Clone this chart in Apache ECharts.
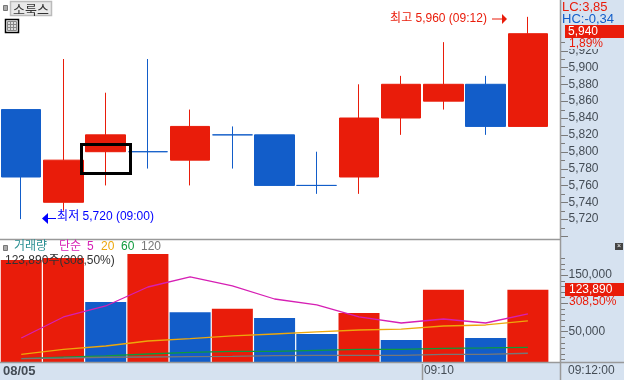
<!DOCTYPE html>
<html><head><meta charset="utf-8">
<style>html,body{margin:0;padding:0;background:#fff}#c{width:624px;height:380px}</style>
<script src="https://cdn.jsdelivr.net/npm/echarts@6/dist/echarts.min.js"></script>
</head><body><div id="c"></div>
<script>
const times = ['08/05','09:01','09:02','09:03','09:04','09:05','09:06','09:07','09:08','09:09','09:10','09:11','09:12'];
const opens  = [5850,5740,5800,5800,5790,5820,5820,5760,5770,5840,5860,5880,5830];
const closes = [5770,5790,5820,5800,5830,5820,5760,5760,5840,5880,5880,5830,5940];
const lows   = [5720,5730,5760,5780,5760,5780,5760,5750,5750,5820,5850,5820,5830];
const highs  = [5850,5910,5870,5910,5850,5830,5820,5800,5880,5890,5930,5890,5960];
const volumes = [176500,180000,102000,187000,84000,90000,73600,45000,82500,34500,123890,38000,123890];
const volumeUp = [1,1,0,1,0,1,0,0,1,0,1,0,1];
const ma5   = [38100,75400,94900,128600,146400,130400,107300,96700,75400,64700,71800,64700,80700];
const ma20  = [9200,18000,23900,32800,36900,41700,45200,48800,52300,54000,59400,61200,68300];
const ma60  = [1400,3900,6200,9700,12700,14500,14500,16300,18000,18000,19800,20400,21600];
const ma120 = [1400,2600,3900,4400,4900,5600,6700,7400,7400,7400,9200,9200,11000];
const priceMajorTicks = [5700,5720,5740,5760,5780,5800,5820,5840,5860,5880,5900,5920];
const priceMinorTicks = [5710,5730,5750,5770,5790,5810,5830,5850,5870,5890,5910,5930];
const volMajorTicks = [50000,100000,150000];
const volMinorTicks = [0,10000,20000,30000,40000,60000,70000,80000,90000,110000,120000,130000,140000,160000,170000,180000];

const RED='#e91c0a', BLUE='#125dc9', PANEL='#d6e2f0', GRAY='#999999', TICK='#7a7a7a', TXT='#444c55';
const FONT='"Liberation Sans","Noto Sans CJK KR",sans-serif';
const chart = echarts.init(document.getElementById('c'),null,{renderer:'canvas'});

function txt(x,y,text,fill,opt){return Object.assign({type:'text',x:x,y:y,z:100,silent:true,
  style:Object.assign({text:text,fill:fill,font:'12px '+FONT,textVerticalAlign:'middle'},opt||{})});}
function rect(x,y,w,h,fill,z,extra){return {type:'rect',z:z,silent:true,shape:{x:x,y:y,width:w,height:h},
  style:Object.assign({fill:fill},extra||{})};}
function line(x1,y1,x2,y2,c,z,w){return {type:'line',z:z,silent:true,shape:{x1:x1,y1:y1,x2:x2,y2:y2},style:{stroke:c,lineWidth:w||1}};}

const graphics=[
  rect(561,0,63,380,PANEL,-1),
  rect(0,363,624,17,PANEL,-1),
  rect(561,0,63,40,PANEL,50),
  rect(567,38,57,11,PANEL,50),
  line(0,239.5,560,239.5,GRAY,60,1.5),
  line(0,362.5,624,362.5,GRAY,60,1.5),
  line(560.5,0,560.5,380,GRAY,60,1.5),
  line(422.5,364,422.5,380,GRAY,60,1.5),
  // header widgets
  rect(3.5,5.5,4,5,'#aaaaaa',100,{stroke:'#777',lineWidth:1}),
  rect(10.5,1.5,41,14,'#e9e9e9',100,{stroke:'#bbbbbb',lineWidth:1.5}),
  txt(31,9,'소룩스','#333',{textAlign:'center',font:'13px "Noto Sans CJK KR"'}),
  rect(5.5,19.5,13,13,'#fff',100,{stroke:'#000',lineWidth:1.5}),
  rect(7.5,21.5,9,9,'#ddd',101,{stroke:'#888',lineWidth:1}),
  line(10.5,21.5,10.5,30.5,'#888',102), line(13.5,21.5,13.5,30.5,'#888',102),
  line(7.5,24.5,16.5,24.5,'#888',102), line(7.5,27.5,16.5,27.5,'#888',102),
  // selection box
  rect(81.5,144.5,49,29,'rgba(0,0,0,0)',90,{stroke:'#000',lineWidth:3}),
  // high / low arrows
  line(492,19,504,19,RED,90),
  {type:'polygon',z:90,silent:true,shape:{points:[[502,14],[507,19],[502,24]]},style:{fill:RED}},
  line(48,218.5,56,218.5,'#0000ff',90),
  {type:'polygon',z:90,silent:true,shape:{points:[[48,213],[42,218.5],[48,224]]},style:{fill:'#0000ff'}},
  // right side overlays
  txt(562,7,'LC:3,85',RED,{font:'13px '+FONT}),
  txt(562,19,'HC:-0,34',BLUE,{font:'13px '+FONT}),
  rect(565,25,59,13,RED,99),
  txt(568,32,'5,940','#fff',{}),
  txt(569,44,'1,89%',RED,{}),
  rect(565,283,59,13,RED,99),
  txt(569,290,'123,890','#fff',{}),
  txt(569,302,'308,50%',RED,{}),
  rect(615,243,8,7,'#444',100),
  txt(619,246.5,'×','#fff',{textAlign:'center',font:'7px '+FONT}),
  txt(568,371,'09:12:00',TXT,{font:'12px '+FONT}),
  // volume legend
  rect(3.5,245.5,4,5,'#aaaaaa',100,{stroke:'#777',lineWidth:1}),
  txt(14,247,'거래량','#2a8f92',{}),
  txt(59,247,'단순','#d61fb4',{}),
  txt(87,247,'5','#d61fb4',{}),
  txt(101,247,'20','#eda70c',{}),
  txt(121,247,'60','#0f9a3c',{}),
  txt(141,247,'120','#777777',{}),
  txt(5,261,'123,890주(308,50%)','#333',{})
];

const candleData = opens.map((o,i)=>{
  const item={value:[o,closes[i],lows[i],highs[i]]};
  if(o===closes[i]) item.itemStyle={color:BLUE,color0:BLUE,borderColor:BLUE,borderColor0:BLUE};
  return item;
});
const volData = volumes.map((v,i)=>({value:v,itemStyle:{color:volumeUp[i]?RED:BLUE}}));
const xLabels = times.map((t,i)=>{
  if(i===0) return {value:t,textStyle:{fontWeight:'bold',fontSize:13,padding:[0,4,0,0]}};
  if(i===10) return {value:t,textStyle:{padding:[0,9,0,0]}};
  return t;
});
const maLine=(name,data,c)=>({name:name,type:'line',xAxisIndex:1,yAxisIndex:1,data:data,symbol:'none',
  smooth:false,lineStyle:{color:c,width:1.3},z:5,animation:false});

chart.setOption({
  animation:false,
  backgroundColor:'#fff',
  textStyle:{fontFamily:FONT},
  grid:[
    {left:0,top:0,width:549,height:236},
    {left:0,top:240,width:549,height:122}
  ],
  xAxis:[
    {type:'category',gridIndex:0,data:times,show:false},
    {type:'category',gridIndex:1,data:xLabels,
     axisLine:{show:false},
     axisTick:{show:false},
     axisLabel:{color:TXT,fontSize:12,margin:3,interval:(i)=>i===0||i===10,hideOverlap:false}}
  ],
  yAxis:[
    {type:'value',gridIndex:0,z:10,position:'right',offset:11.5,min:5700,max:5980,interval:20,
     splitLine:{show:false},
     axisLine:{show:true,lineStyle:{color:TICK}},
     axisTick:{show:false},
     axisLabel:{color:TXT,fontSize:12,margin:8,
       formatter:v=>(v>=5720&&v<=5920)?echarts.format.addCommas(v):''}},
    {type:'value',gridIndex:1,z:10,position:'right',offset:11.5,min:-4500,max:212000,startValue:-4500,
     splitLine:{show:false},
     axisLine:{show:true,lineStyle:{color:TICK}},
     axisTick:{show:false},
     axisLabel:{color:TXT,fontSize:12,margin:8,customValues:[50000,150000],
       formatter:v=>echarts.format.addCommas(v)}}
  ],
  series:[
    {type:'candlestick',name:'소룩스',xAxisIndex:0,yAxisIndex:0,data:candleData,barWidth:40,animation:false,
     itemStyle:{color:RED,color0:BLUE,borderColor:RED,borderColor0:BLUE,borderWidth:1},
     markPoint:{symbol:'circle',symbolSize:0,animation:false,silent:true,
       data:[
        {coord:[12,5960],label:{show:true,position:'left',distance:41,offset:[0,2],color:RED,fontSize:12,
          formatter:'최고 5,960 (09:12)'}},
        {coord:[0,5720],label:{show:true,position:'right',distance:36,offset:[0,-2],color:'#0000ff',fontSize:12,
          formatter:'최저 5,720 (09:00)'}}
       ]}},
    {type:'bar',name:'거래량',xAxisIndex:1,yAxisIndex:1,data:volData,barWidth:41,animation:false,z:2},
    maLine('5',ma5,'#d61fb4'),
    maLine('20',ma20,'#eda70c'),
    maLine('60',ma60,'#0f9a3c'),
    maLine('120',ma120,'#777777')
  ]
});
// axis tick marks placed through the axes' own scales
const tickMarks=(axisIndex,values,len)=>values.map(v=>{
  const y=Math.round(chart.convertToPixel({yAxisIndex:axisIndex},v))+0.5;
  return line(561,y,561+len,y,TICK,40,1);
});
chart.setOption({graphic:{elements:graphics.concat(
  tickMarks(0,priceMajorTicks,7),tickMarks(0,priceMinorTicks,4),
  tickMarks(1,volMajorTicks,7),tickMarks(1,volMinorTicks,4))}});
</script></body></html>
